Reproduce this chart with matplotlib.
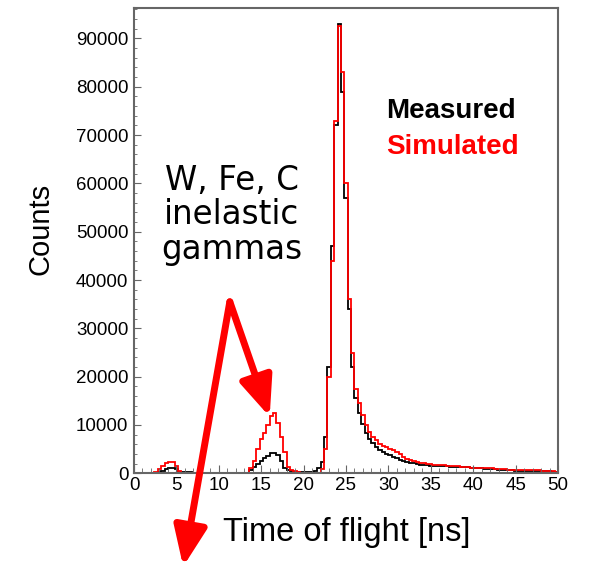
import numpy as np
import matplotlib
matplotlib.use("Agg")
import matplotlib.pyplot as plt
from matplotlib.ticker import MultipleLocator

plt.rcParams['font.family'] = ['Liberation Sans', 'DejaVu Sans']

# time of flight binning (ns)
bin_width = 0.4
edges = np.arange(0, 50 + bin_width / 2, bin_width)

# counts per bin, 10 bins (4 ns) per row
measured = [
    0, 0, 0, 0, 0, 0, 0, 200, 500, 800,
    1050, 1100, 800, 300, 300, 250, 200, 150, 100, 60,
    50, 50, 50, 50, 50, 50, 50, 50, 50, 50,
    50, 50, 80, 150, 700, 1400, 2000, 2600, 3100, 3600,
    4200, 4300, 3800, 2500, 1200, 600, 400, 300, 300, 300,
    300, 300, 350, 500, 1000, 2300, 7500, 22000, 47000, 72000,
    93000, 79000, 57000, 34000, 22000, 15500, 12500, 10200, 8400, 7200,
    6300, 5500, 4900, 4400, 4000, 3700, 3400, 3100, 2800, 2500,
    2300, 2150, 2050, 1950, 1800, 1700, 1650, 1600, 1550, 1500,
    1500, 1450, 1450, 1400, 1400, 1350, 1300, 1300, 1250, 1200,
    1150, 1050, 1000, 950, 900, 850, 800, 700, 680, 650,
    620, 600, 560, 530, 500, 480, 450, 430, 420, 400,
    400, 380, 380, 360, 350,
]

simulated = [
    0, 0, 0, 0, 0, 0, 300, 800, 1500, 2100,
    2400, 2300, 1500, 500, 100, 0, 0, 0, 0, 0,
    0, 0, 0, 0, 0, 0, 0, 0, 0, 0,
    0, 0, 0, 100, 1200, 2500, 5000, 7000, 8300, 10000,
    11800, 12400, 10500, 7500, 4500, 1300, 700, 500, 300, 100,
    100, 100, 100, 100, 150, 800, 5000, 20000, 44000, 73000,
    92500, 83000, 60000, 36000, 25000, 17500, 14500, 12000, 10000, 8600,
    7600, 6800, 6100, 5700, 5400, 5100, 4800, 4500, 4000, 3400,
    3000, 2700, 2500, 2400, 2200, 2100, 2000, 1900, 1800, 1750,
    1700, 1650, 1600, 1550, 1550, 1500, 1400, 1350, 1300, 1200,
    1200, 1150, 1100, 1100, 1050, 1000, 950, 870, 850, 800,
    780, 760, 740, 720, 700, 680, 650, 620, 600, 580,
    500, 450, 400, 380, 350,
]

fig = plt.figure(figsize=(5.9, 5.64), dpi=100)
ax = fig.add_axes([134 / 590, 1 - 473.3 / 564, 424 / 590, 465.3 / 564])

ax.stairs(measured, edges, baseline=0, color='black', lw=1.3)
ax.stairs(simulated, edges, baseline=0, color='#ff0000', lw=1.3)

ax.set_xlim(0, 50)
ax.set_ylim(0, 96300)

ax.xaxis.set_major_locator(MultipleLocator(5))
ax.xaxis.set_minor_locator(MultipleLocator(1))
ax.yaxis.set_major_locator(MultipleLocator(10000))
ax.yaxis.set_minor_locator(MultipleLocator(2000))
ax.tick_params(which='both', direction='in', color='#666666', labelsize=13.5)
ax.tick_params(axis='x', which='major', length=6, pad=3)
ax.tick_params(axis='x', which='minor', length=3.5)
ax.tick_params(axis='y', which='major', length=5, pad=4)
ax.tick_params(axis='y', which='minor', length=2.5)
for s in ax.spines.values():
    s.set_color('#666666')
    s.set_linewidth(1.5)

# ROOT lifts the zero label on the y axis
fig.canvas.draw()
ax.get_yticklabels()[0].set_verticalalignment('bottom')

fig.text(40 / 590, 1 - 229 / 564, 'Counts', rotation=90, fontsize=21,
         ha='center', va='center')
fig.text(347 / 590, 1 - 532 / 564, 'Time of flight [ns]', fontsize=23.5,
         ha='center', va='center')

ax.text(29.7, 73500, 'Measured', fontsize=20, fontweight='bold',
        color='black', va='baseline')
ax.text(29.7, 66100, 'Simulated', fontsize=20, fontweight='bold',
        color='#ff0000', va='baseline')

ax.text(11.5, 53500, 'W, Fe, C\ninelastic\ngammas', fontsize=23.5,
        family=['DejaVu Sans'], ha='center', va='center',
        linespacing=1.05)

arrow = dict(arrowstyle='-|>,head_length=1.2,head_width=0.5', color='#ff0000',
             lw=5, shrinkA=0, shrinkB=0, mutation_scale=20)
ax.annotate('', xy=(16.0, 11700), xytext=(11.3, 35500), arrowprops=arrow,
            annotation_clip=False)
ax.annotate('', xy=(5.8, -19300), xytext=(11.3, 35500), arrowprops=arrow,
            annotation_clip=False)

plt.savefig('out.png', dpi=100)
